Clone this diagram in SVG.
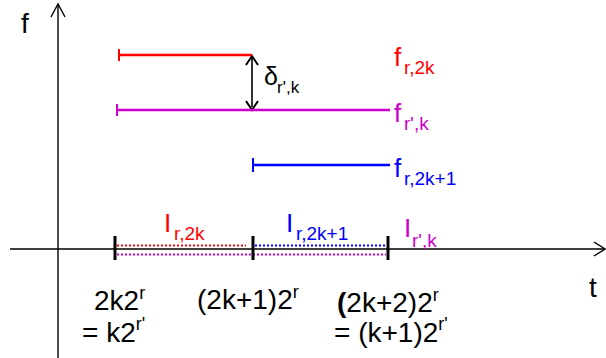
<svg xmlns="http://www.w3.org/2000/svg" width="606" height="358" viewBox="0 0 606 358">
<style>
text{font-family:"Liberation Sans",Arial,sans-serif}
.big{font-size:26px}
.lab{font-size:28px}
.sub{font-size:19px}
.sup{font-size:18px}
.axis{stroke:#000;stroke-width:1.4;fill:none}
.tick{stroke:#000;stroke-width:3}
.red{fill:#FF0000}.mag{fill:#CC00CC}.blue{fill:#0000FF}.blk{fill:#000}
.dot{stroke-width:2;stroke-dasharray:2 2;fill:none}
.seg{stroke-width:2.5;fill:none}
</style>
<g id="axes">
<line class="axis" x1="58" y1="358" x2="58" y2="4"/>
<polyline class="axis" stroke-width="2" points="51,17 58,4 65,17"/>
<line class="axis" x1="10" y1="249" x2="604" y2="249"/>
<polyline class="axis" stroke-width="2" points="594,242 605,249 594,256"/>
<text class="lab blk" x="21" y="33">f</text>
<text class="lab blk" x="589" y="297">t</text>
</g>
<g id="connectors">
<line x1="252" y1="58" x2="252" y2="107" stroke="#000" stroke-width="1.6"/>
<polyline points="246,65 252,56 258,65" stroke="#000" stroke-width="2" fill="none"/>
<polyline points="246,101 252,110 258,101" stroke="#000" stroke-width="2" fill="none"/>
</g>
<g id="f-r-2k">
<line class="seg" stroke="#FF0000" x1="119" y1="55" x2="252" y2="55"/>
<line stroke="#FF0000" stroke-width="2" x1="119" y1="49" x2="119" y2="61"/>
<text class="red"><tspan class="big" x="394" y="66">f</tspan><tspan class="sub" x="404" y="74">r,2k</tspan></text>
</g>
<g id="delta">
<text class="blk"><tspan style="font-size:25px" x="264" y="85">δ</tspan><tspan style="font-size:17px" x="277" y="93">r',k</tspan></text>
</g>
<g id="f-rp-k">
<line class="seg" stroke="#CC00CC" x1="117" y1="110" x2="390" y2="110"/>
<line stroke="#CC00CC" stroke-width="2" x1="117" y1="104" x2="117" y2="116"/>
<text class="mag"><tspan class="big" x="394" y="122">f</tspan><tspan class="sub" x="404" y="130">r',k</tspan></text>
</g>
<g id="f-r-2k1">
<line class="seg" stroke="#0000FF" x1="253" y1="165" x2="390" y2="165"/>
<line stroke="#0000FF" stroke-width="2" x1="253" y1="158" x2="253" y2="172"/>
<text class="blue"><tspan class="big" x="394" y="177">f</tspan><tspan class="sub" x="404" y="185">r,2k+1</tspan></text>
</g>
<g id="I-r-2k">
<line class="dot" stroke="#FF0000" x1="117" y1="245.5" x2="246" y2="245.5"/>
<text class="red"><tspan class="big" x="164" y="232">I</tspan><tspan class="sub" x="174" y="240">r,2k</tspan></text>
</g>
<g id="I-r-2k1">
<line class="dot" stroke="#0000FF" x1="255" y1="245.5" x2="386" y2="245.5"/>
<text class="blue"><tspan class="big" x="286" y="232">I</tspan><tspan class="sub" x="296" y="240">r,2k+1</tspan></text>
</g>
<g id="I-rp-k">
<line class="dot" stroke="#CC00CC" x1="117" y1="254.5" x2="386" y2="254.5"/>
<text class="mag"><tspan class="big" x="404" y="237">I</tspan><tspan class="sub" x="412" y="247">r',k</tspan></text>
</g>
<g id="ticks">
<line class="tick" x1="115" y1="236" x2="115" y2="260"/>
<line class="tick" x1="253" y1="236" x2="253" y2="260"/>
<line class="tick" x1="388" y1="236" x2="388" y2="260"/>
</g>
<g id="labels">
<text class="blk"><tspan class="lab" x="94" y="310">2k2</tspan><tspan class="sup" y="299">r</tspan></text>
<text class="blk"><tspan class="lab" x="82" y="342">= k2</tspan><tspan class="sup" y="330">r'</tspan></text>
<text class="blk"><tspan class="lab" x="197" y="309">(2k+1)2</tspan><tspan class="sup" y="298">r</tspan></text>
<text class="blk"><tspan class="lab" x="337" y="312" font-weight="bold">(</tspan><tspan class="lab">2k+2)2</tspan><tspan class="sup" y="301">r</tspan></text>
<text class="blk"><tspan class="lab" x="334" y="342">= (k+1)2</tspan><tspan class="sup" y="330">r'</tspan></text>
</g>
</svg>
